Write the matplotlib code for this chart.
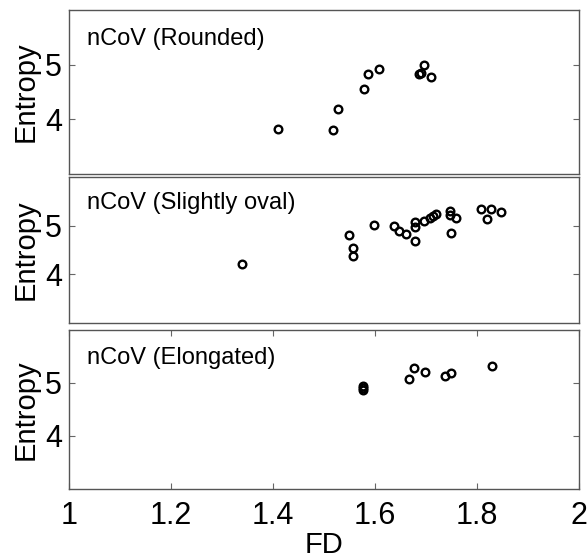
import numpy as np
import matplotlib
matplotlib.use("Agg")
import matplotlib.pyplot as plt

plt.rcParams['font.family'] = ['Liberation Sans', 'DejaVu Sans']

# FD / entropy pairs for each nCoV shape class
rounded_fd = [1.41, 1.518, 1.528, 1.578, 1.587, 1.607, 1.686, 1.690, 1.697, 1.709]
rounded_ent = [3.83, 3.80, 4.19, 4.56, 4.82, 4.92, 4.83, 4.84, 4.99, 4.78]

oval_fd = [1.339, 1.549, 1.557, 1.557, 1.598, 1.638, 1.648, 1.660, 1.678, 1.678,
           1.678, 1.697, 1.708, 1.714, 1.719, 1.748, 1.748, 1.758, 1.749, 1.807,
           1.819, 1.827, 1.848]
oval_ent = [4.22, 4.80, 4.55, 4.37, 5.01, 4.99, 4.89, 4.83, 5.07, 4.97,
            4.68, 5.10, 5.15, 5.20, 5.24, 5.30, 5.22, 5.16, 4.84, 5.34,
            5.14, 5.34, 5.29]

elong_fd = [1.577, 1.577, 1.577, 1.667, 1.677, 1.698, 1.737, 1.749, 1.829]
elong_ent = [4.94, 4.90, 4.87, 5.07, 5.29, 5.20, 5.14, 5.18, 5.32]

panels = [
    ("nCoV (Rounded)", rounded_fd, rounded_ent),
    ("nCoV (Slightly oval)", oval_fd, oval_ent),
    ("nCoV (Elongated)", elong_fd, elong_ent),
]

# axes rectangles in figure fractions (left, bottom, width, height)
rects = [
    [0.1175, 0.6882, 0.8688, 0.2939],
    [0.1175, 0.4211, 0.8688, 0.2616],
    [0.1175, 0.1237, 0.8688, 0.2849],
]

fig = plt.figure(figsize=(5.87, 5.58), dpi=100)

for i, ((label, fd, ent), rect) in enumerate(zip(panels, rects)):
    ax = fig.add_axes(rect)
    ax.plot(fd, ent, 'o', mfc='none', mec='black', mew=1.7, ms=5.5)
    ax.set_xlim(1, 2)
    ax.set_ylim(3, 6)
    ax.set_yticks([4, 5])
    ax.set_xticks([1, 1.2, 1.4, 1.6, 1.8, 2])
    ax.text(1.035, 5.47, label, fontsize=17, va='center', ha='left')
    ax.set_ylabel("Entropy", fontsize=21, labelpad=4)
    for s in ax.spines.values():
        s.set_color('#555555')
        s.set_linewidth(1.0)
    ax.tick_params(axis='y', direction='in', length=4, width=0.8,
                   color='#666666', left=True, right=True, labelsize=22, pad=5)
    if i == 2:
        ax.tick_params(axis='x', direction='in', length=4, width=0.8,
                       color='#666666', top=True, bottom=True, labelsize=22, pad=9)
        ax.set_xticklabels(['1', '1.2', '1.4', '1.6', '1.8', '2'])
        ax.set_xlabel("FD", fontsize=21, labelpad=0)
    else:
        ax.tick_params(axis='x', bottom=False, labelbottom=False)

fig.savefig("out.png", dpi=100)
